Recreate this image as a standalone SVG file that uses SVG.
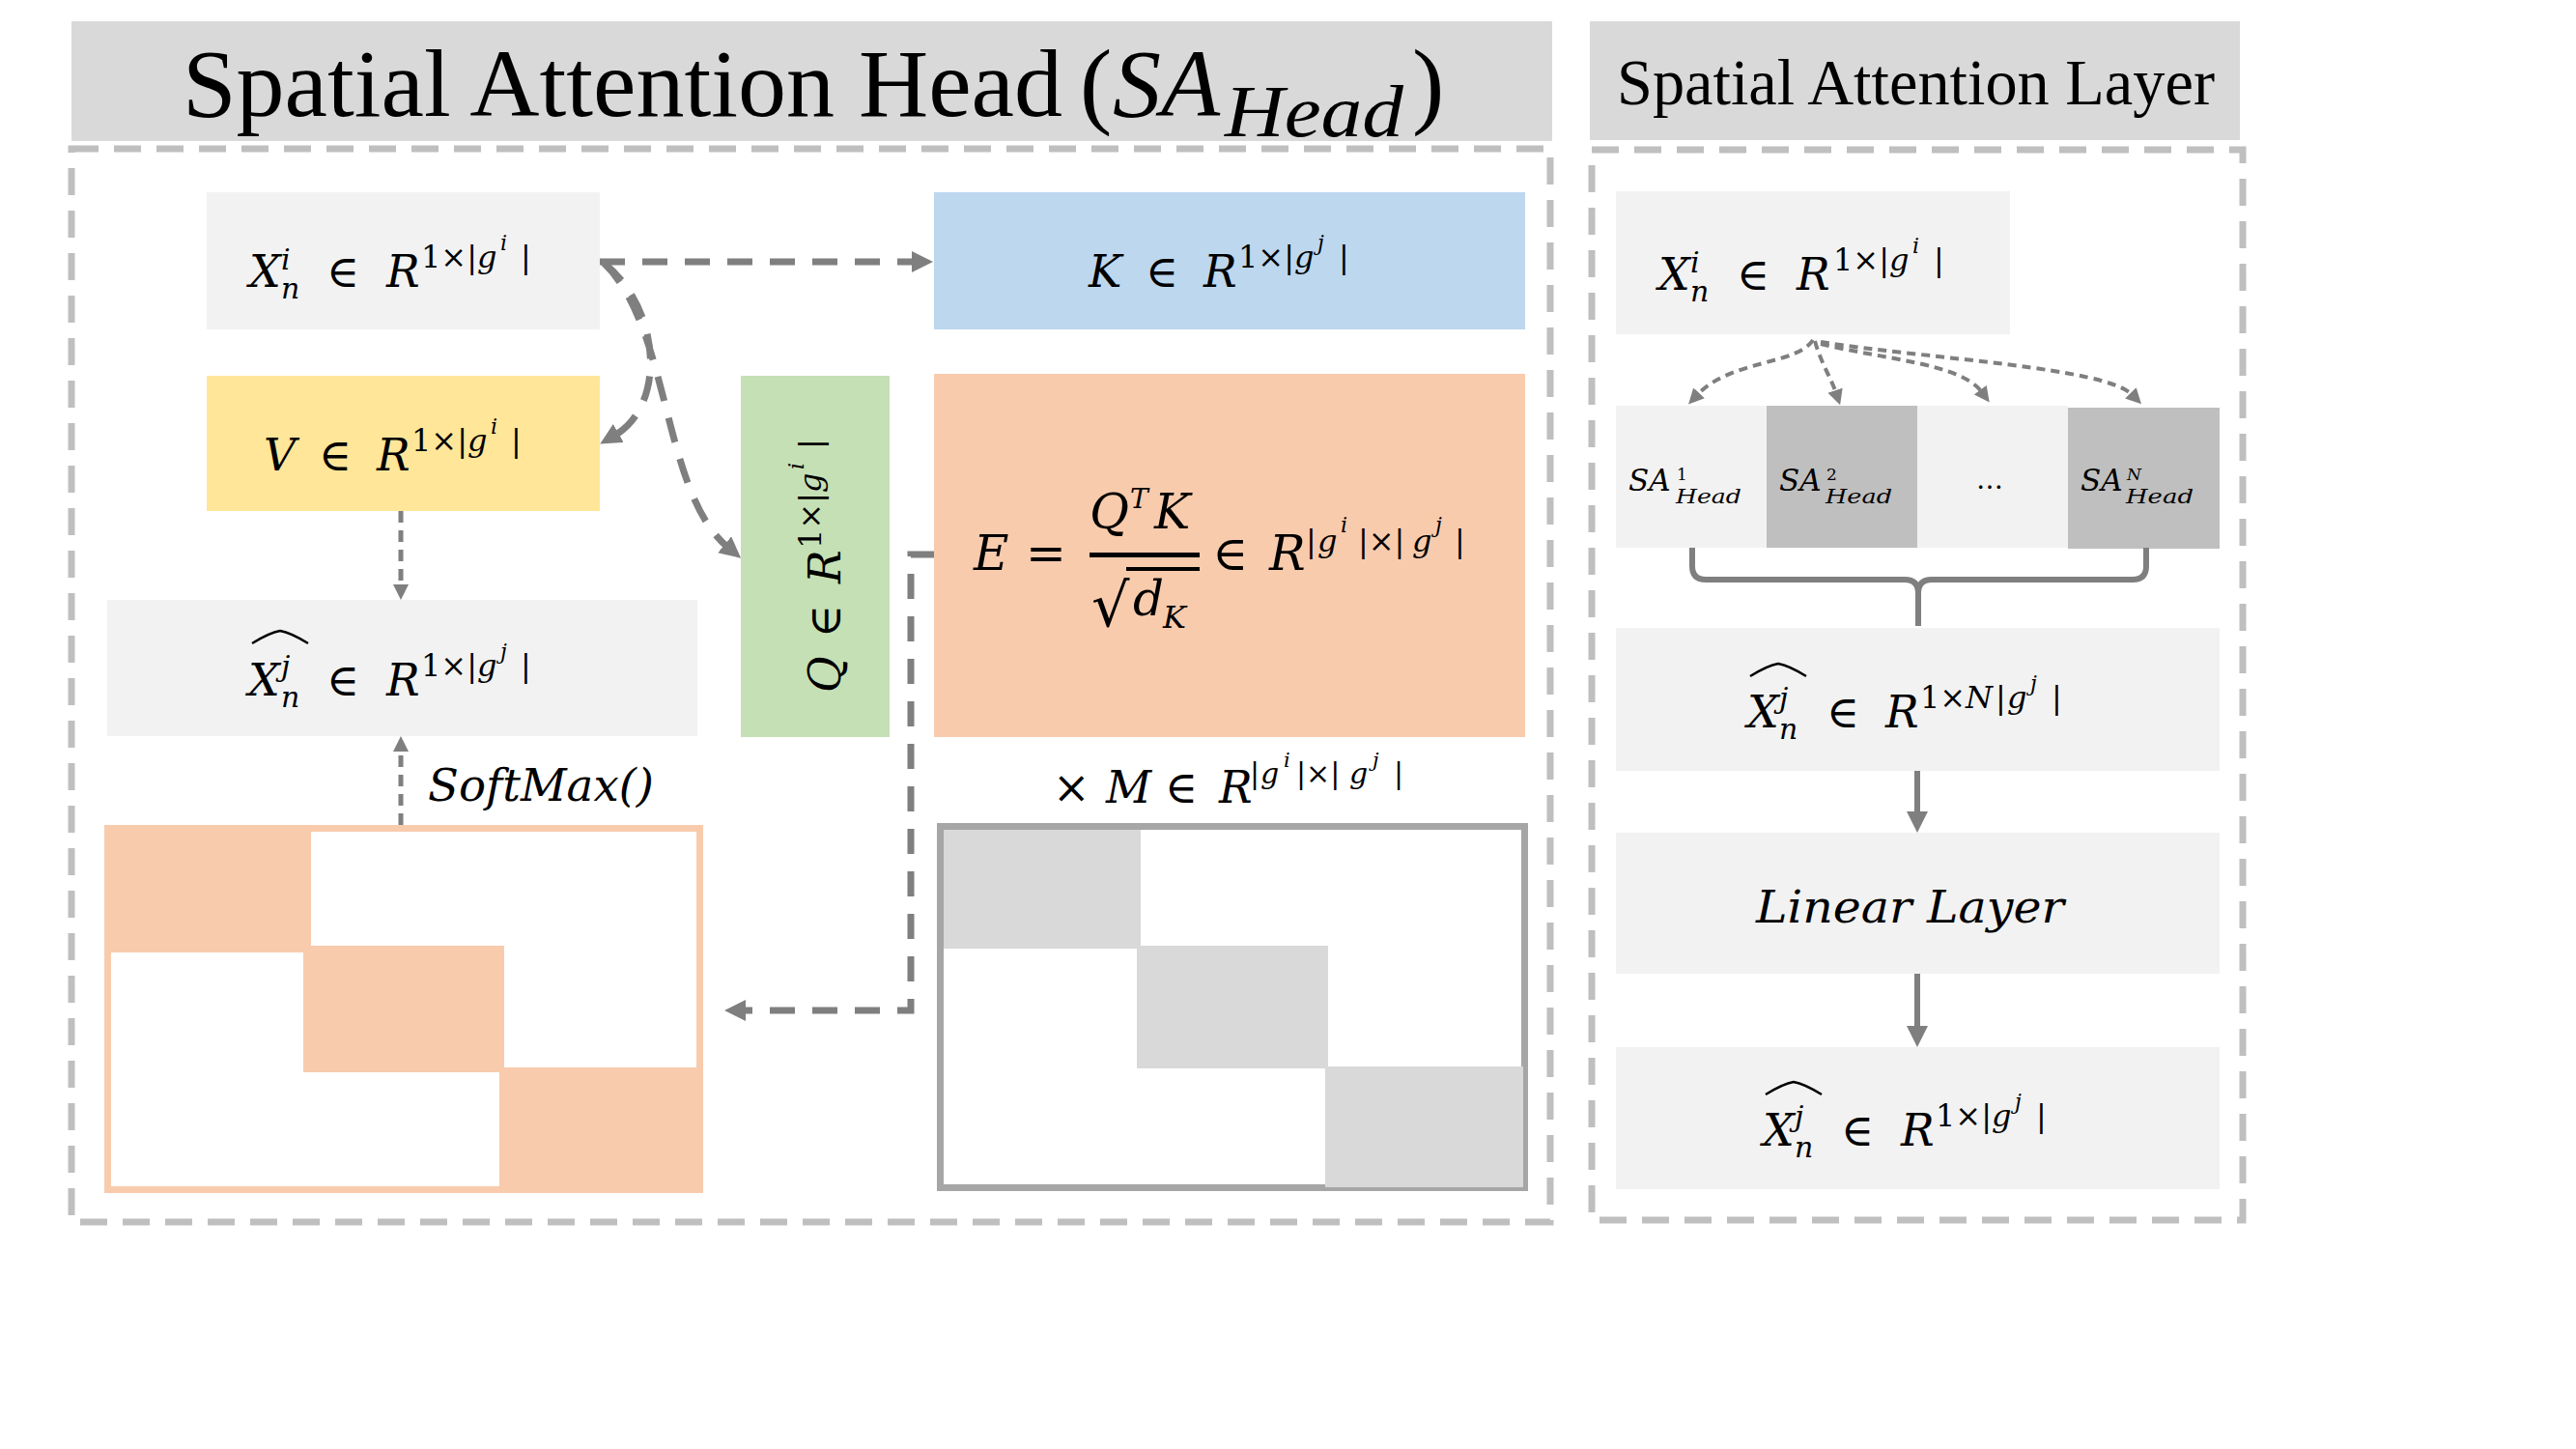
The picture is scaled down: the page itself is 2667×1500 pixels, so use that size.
<svg xmlns="http://www.w3.org/2000/svg" width="2667" height="1500" viewBox="0 0 2667 1500">
<style>
.title{font-family:"Liberation Serif","Times New Roman",serif;fill:#000}
.m{font-family:"DejaVu Serif","DejaVu Sans",serif;font-style:italic;fill:#000}
.u{font-style:normal}
.cont{fill:none;stroke:#bfbfbf;stroke-width:7;stroke-dasharray:28 16}
.dash{fill:none;stroke:#7f7f7f;stroke-width:7;stroke-dasharray:26 18}
.dthin{fill:none;stroke:#7f7f7f;stroke-width:5;stroke-dasharray:12 8}
.dfan{fill:none;stroke:#7f7f7f;stroke-width:4;stroke-dasharray:9 6}
.solid{fill:none;stroke:#7f7f7f;stroke-width:6}
.hat{fill:none;stroke:#000;stroke-width:2.5}
</style>
<defs>
<marker id="ah" markerUnits="userSpaceOnUse" markerWidth="22" markerHeight="22" refX="5" refY="11" orient="auto" viewBox="0 0 22 22"><path d="M0,0 L22,11 L0,22 z" fill="#7f7f7f"/></marker>
<marker id="ahs" markerUnits="userSpaceOnUse" markerWidth="16" markerHeight="16" refX="3" refY="8" orient="auto" viewBox="0 0 16 16"><path d="M0,0 L16,8 L0,16 z" fill="#7f7f7f"/></marker>
<marker id="ahb" markerUnits="userSpaceOnUse" markerWidth="22" markerHeight="22" refX="2" refY="11" orient="auto" viewBox="0 0 22 22"><path d="M0,0 L22,11 L0,22 z" fill="#7f7f7f"/></marker>
</defs>
<rect width="2667" height="1500" fill="#fff"/>

<g id="head-panel">
<rect x="74" y="22" width="1533" height="124" fill="#d9d9d9"/>
<text class="title" y="120" font-size="100"><tspan x="189">Spatial Attention Head</tspan><tspan x="1118">(</tspan><tspan x="1152" font-style="italic">SA</tspan><tspan x="1268" y="141" font-size="76" font-style="italic" textLength="185" lengthAdjust="spacingAndGlyphs">Head</tspan><tspan x="1462" y="120">)</tspan></text>
<rect class="cont" x="74" y="154" width="1531" height="1111"/>
</g>

<g id="layer-panel">
<rect x="1646" y="22" width="673" height="123" fill="#d9d9d9"/>
<text class="title" x="1674" y="108" font-size="68" textLength="619" lengthAdjust="spacingAndGlyphs">Spatial Attention Layer</text>
<rect class="cont" x="1648" y="155" width="674" height="1108"/>
</g>

<g id="node-xi">
<rect x="214" y="199" width="407" height="142" fill="#f2f2f2"/>
<text class="m" font-size="46"><tspan x="258" y="297">X</tspan><tspan x="291" y="279" font-size="30">i</tspan><tspan x="291" y="309" font-size="30">n</tspan><tspan class="u" x="338" y="297">∈</tspan><tspan x="400" y="297">R</tspan><tspan class="u" x="436" y="277" font-size="32">1×|</tspan><tspan x="494" y="277" font-size="32">g</tspan><tspan x="518" y="259" font-size="22">i</tspan><tspan class="u" x="539" y="277" font-size="32">|</tspan></text>
</g>

<g id="node-k">
<rect x="967" y="199" width="612" height="142" fill="#bdd7ee"/>
<text class="m" font-size="46"><tspan x="1127" y="297">K</tspan><tspan class="u" x="1186" y="297">∈</tspan><tspan x="1246" y="297">R</tspan><tspan class="u" x="1282" y="277" font-size="32">1×|</tspan><tspan x="1340" y="277" font-size="32">g</tspan><tspan x="1364" y="259" font-size="22">j</tspan><tspan class="u" x="1386" y="277" font-size="32">|</tspan></text>
</g>

<g id="node-v">
<rect x="214" y="389" width="407" height="140" fill="#ffe699"/>
<text class="m" font-size="46"><tspan x="273" y="487">V</tspan><tspan class="u" x="330" y="487">∈</tspan><tspan x="390" y="487">R</tspan><tspan class="u" x="426" y="467" font-size="32">1×|</tspan><tspan x="484" y="467" font-size="32">g</tspan><tspan x="508" y="449" font-size="22">i</tspan><tspan class="u" x="529" y="467" font-size="32">|</tspan></text>
</g>

<g id="node-q">
<rect x="767" y="389" width="154" height="374" fill="#c5e0b4"/>
<text class="m" font-size="46" transform="translate(870,717) rotate(-90)"><tspan x="0" y="0">Q</tspan><tspan class="u" x="57" y="0">∈</tspan><tspan x="113" y="0">R</tspan><tspan class="u" x="149" y="-20" font-size="32">1×|</tspan><tspan x="207" y="-20" font-size="32">g</tspan><tspan x="231" y="-38" font-size="22">i</tspan><tspan class="u" x="252" y="-20" font-size="32">|</tspan></text>
</g>

<g id="node-e">
<rect x="967" y="387" width="612" height="376" fill="#f8cbad"/>
<text class="m" font-size="50"><tspan x="1008" y="590">E</tspan><tspan class="u" x="1062" y="590">=</tspan><tspan x="1128" y="547">Q</tspan><tspan x="1170" y="526" font-size="28">T</tspan><tspan x="1195" y="547">K</tspan><tspan class="u" x="1130" y="648" font-size="62" font-family="DejaVu Sans">√</tspan><tspan x="1173" y="637">d</tspan><tspan x="1204" y="650" font-size="32">K</tspan><tspan class="u" x="1255" y="590">∈</tspan><tspan x="1314" y="590">R</tspan><tspan class="u" x="1352" y="571" font-size="32">|</tspan><tspan x="1364" y="571" font-size="32">g</tspan><tspan x="1388" y="551" font-size="22">i</tspan><tspan class="u" x="1406" y="571" font-size="32">|×|</tspan><tspan x="1462" y="571" font-size="32">g</tspan><tspan x="1486" y="551" font-size="22">j</tspan><tspan class="u" x="1506" y="571" font-size="32">|</tspan></text>
<line x1="1128" y1="574.5" x2="1242" y2="574.5" stroke="#000" stroke-width="5"/>
<line x1="1166" y1="589" x2="1242" y2="589" stroke="#000" stroke-width="4"/>
</g>

<g id="node-xhat">
<rect x="111" y="621" width="611" height="141" fill="#f2f2f2"/>
<path class="hat" d="M261,666 C274,658 284,654 290,653 C296,654 306,658 319,666"/>
<text class="m" font-size="46"><tspan x="257" y="720">X</tspan><tspan x="291" y="700" font-size="30">j</tspan><tspan x="291" y="732" font-size="30">n</tspan><tspan class="u" x="338" y="720">∈</tspan><tspan x="400" y="720">R</tspan><tspan class="u" x="436" y="700" font-size="32">1×|</tspan><tspan x="494" y="700" font-size="32">g</tspan><tspan x="518" y="682" font-size="22">j</tspan><tspan class="u" x="539" y="700" font-size="32">|</tspan></text>
</g>

<g id="node-softmax-matrix">
<rect x="108" y="854" width="620" height="381" fill="#f8cbad"/>
<rect x="322" y="861" width="399" height="244" fill="#fff"/>
<rect x="115" y="986" width="402" height="242" fill="#fff"/>
<rect x="314" y="979" width="208" height="131" fill="#f8cbad"/>
</g>

<g id="node-mask-matrix">
<rect x="973.5" y="855.5" width="605" height="374" fill="#fff" stroke="#a6a6a6" stroke-width="7"/>
<rect x="977" y="859" width="204" height="123" fill="#d9d9d9"/>
<rect x="1177" y="979" width="198" height="127" fill="#d9d9d9"/>
<rect x="1372" y="1104" width="205" height="125" fill="#d9d9d9"/>
</g>

<g id="label-softmax">
<text class="m" x="443" y="829" font-size="46" textLength="234" lengthAdjust="spacingAndGlyphs">SoftMax()</text>
</g>
<g id="label-mask">
<text class="m" font-size="46"><tspan class="u" x="1090" y="831">×</tspan><tspan x="1145" y="831">M</tspan><tspan class="u" x="1206" y="831">∈</tspan><tspan x="1262" y="831">R</tspan><tspan class="u" x="1294" y="811" font-size="30">|</tspan><tspan x="1305" y="811" font-size="30">g</tspan><tspan x="1329" y="794" font-size="21">i</tspan><tspan class="u" x="1342" y="811" font-size="30">|×|</tspan><tspan x="1397" y="811" font-size="30">g</tspan><tspan x="1421" y="794" font-size="21">j</tspan><tspan class="u" x="1443" y="811" font-size="30">|</tspan></text>
</g>

<g id="node-r-xi">
<rect x="1673" y="198" width="408" height="148" fill="#f2f2f2"/>
<text class="m" font-size="46"><tspan x="1717" y="300">X</tspan><tspan x="1750" y="282" font-size="30">i</tspan><tspan x="1750" y="312" font-size="30">n</tspan><tspan class="u" x="1798" y="300">∈</tspan><tspan x="1860" y="300">R</tspan><tspan class="u" x="1898" y="280" font-size="32">1×|</tspan><tspan x="1956" y="280" font-size="32">g</tspan><tspan x="1980" y="262" font-size="22">i</tspan><tspan class="u" x="2002" y="280" font-size="32">|</tspan></text>
</g>

<g id="node-sa1">
<rect x="1673" y="420" width="156" height="147" fill="#f2f2f2"/>
<text class="m" font-size="31"><tspan x="1686" y="508">SA</tspan><tspan class="u" x="1736" y="497" font-size="17">1</tspan><tspan x="1735" y="521" font-size="20" textLength="68" lengthAdjust="spacingAndGlyphs">Head</tspan></text>
</g>
<g id="node-sa2">
<rect x="1829" y="420" width="156" height="147" fill="#bfbfbf"/>
<text class="m" font-size="31"><tspan x="1842" y="508">SA</tspan><tspan class="u" x="1891" y="497" font-size="17">2</tspan><tspan x="1890" y="521" font-size="20" textLength="69" lengthAdjust="spacingAndGlyphs">Head</tspan></text>
</g>
<g id="node-sadots">
<rect x="1985" y="420" width="156" height="147" fill="#f2f2f2"/>
<text class="m u" x="2046" y="506" font-size="28">…</text>
</g>
<g id="node-san">
<rect x="2141" y="422" width="157" height="146" fill="#bfbfbf"/>
<text class="m" font-size="31"><tspan x="2154" y="508">SA</tspan><tspan x="2202" y="497" font-size="17">N</tspan><tspan x="2201" y="521" font-size="20" textLength="70" lengthAdjust="spacingAndGlyphs">Head</tspan></text>
</g>

<g id="node-r-xhat-n">
<rect x="1673" y="650" width="625" height="148" fill="#f2f2f2"/>
<path class="hat" d="M1812,700 C1825,692 1835,688 1841,687 C1847,688 1857,692 1870,700"/>
<text class="m" font-size="46"><tspan x="1809" y="753">X</tspan><tspan x="1842" y="733" font-size="30">j</tspan><tspan x="1842" y="765" font-size="30">n</tspan><tspan class="u" x="1891" y="753">∈</tspan><tspan x="1952" y="753">R</tspan><tspan class="u" x="1988" y="733" font-size="32">1×</tspan><tspan x="2035" y="733" font-size="32">N</tspan><tspan class="u" x="2066" y="733" font-size="32">|</tspan><tspan x="2078" y="733" font-size="32">g</tspan><tspan x="2102" y="715" font-size="22">j</tspan><tspan class="u" x="2124" y="733" font-size="32">|</tspan></text>
</g>

<g id="node-linear">
<rect x="1673" y="862" width="625" height="146" fill="#f2f2f2"/>
<text class="m" x="1818" y="955" font-size="46" textLength="319" lengthAdjust="spacingAndGlyphs">Linear Layer</text>
</g>

<g id="node-r-xhat">
<rect x="1673" y="1084" width="625" height="147" fill="#f2f2f2"/>
<path class="hat" d="M1828,1133 C1841,1125 1851,1121 1857,1120 C1863,1121 1873,1125 1886,1133"/>
<text class="m" font-size="46"><tspan x="1825" y="1186">X</tspan><tspan x="1858" y="1166" font-size="30">j</tspan><tspan x="1858" y="1198" font-size="30">n</tspan><tspan class="u" x="1906" y="1186">∈</tspan><tspan x="1968" y="1186">R</tspan><tspan class="u" x="2004" y="1166" font-size="32">1×|</tspan><tspan x="2062" y="1166" font-size="32">g</tspan><tspan x="2086" y="1148" font-size="22">j</tspan><tspan class="u" x="2108" y="1166" font-size="32">|</tspan></text>
</g>

<g id="connectors">
<path class="dash" d="M621,271 H949" marker-end="url(#ah)"/>
<path class="dash" d="M625,272 C685,320 690,420 636,451" marker-end="url(#ah)"/>
<path class="dash" d="M625,272 C695,340 685,510 754,567" marker-end="url(#ah)"/>
<path class="dthin" d="M415,529 V608" marker-end="url(#ahs)"/>
<path class="dthin" d="M415,854 V775" marker-end="url(#ahs)"/>
<path class="dash" d="M967,574 H943 V1046 H767" marker-end="url(#ah)"/>
<path class="dfan" d="M1877,352 C1860,378 1792,372 1757,409" marker-end="url(#ahs)"/>
<path class="dfan" d="M1879,353 C1885,375 1896,392 1901,407" marker-end="url(#ahs)"/>
<path class="dfan" d="M1885,356 C1950,372 2030,376 2052,406" marker-end="url(#ahs)"/>
<path class="dfan" d="M1885,354 C2000,372 2180,380 2208,409" marker-end="url(#ahs)"/>
<path class="solid" stroke-width="5" d="M1752,567 V586 Q1752,600 1766,600 H1972 Q1986,600 1986,614 V648 M1986,614 Q1986,600 2000,600 H2208 Q2222,600 2222,586 V567"/>
<path class="solid" d="M1985,798 V842" marker-end="url(#ahb)"/>
<path class="solid" d="M1985,1008 V1064" marker-end="url(#ahb)"/>
</g>
</svg>
